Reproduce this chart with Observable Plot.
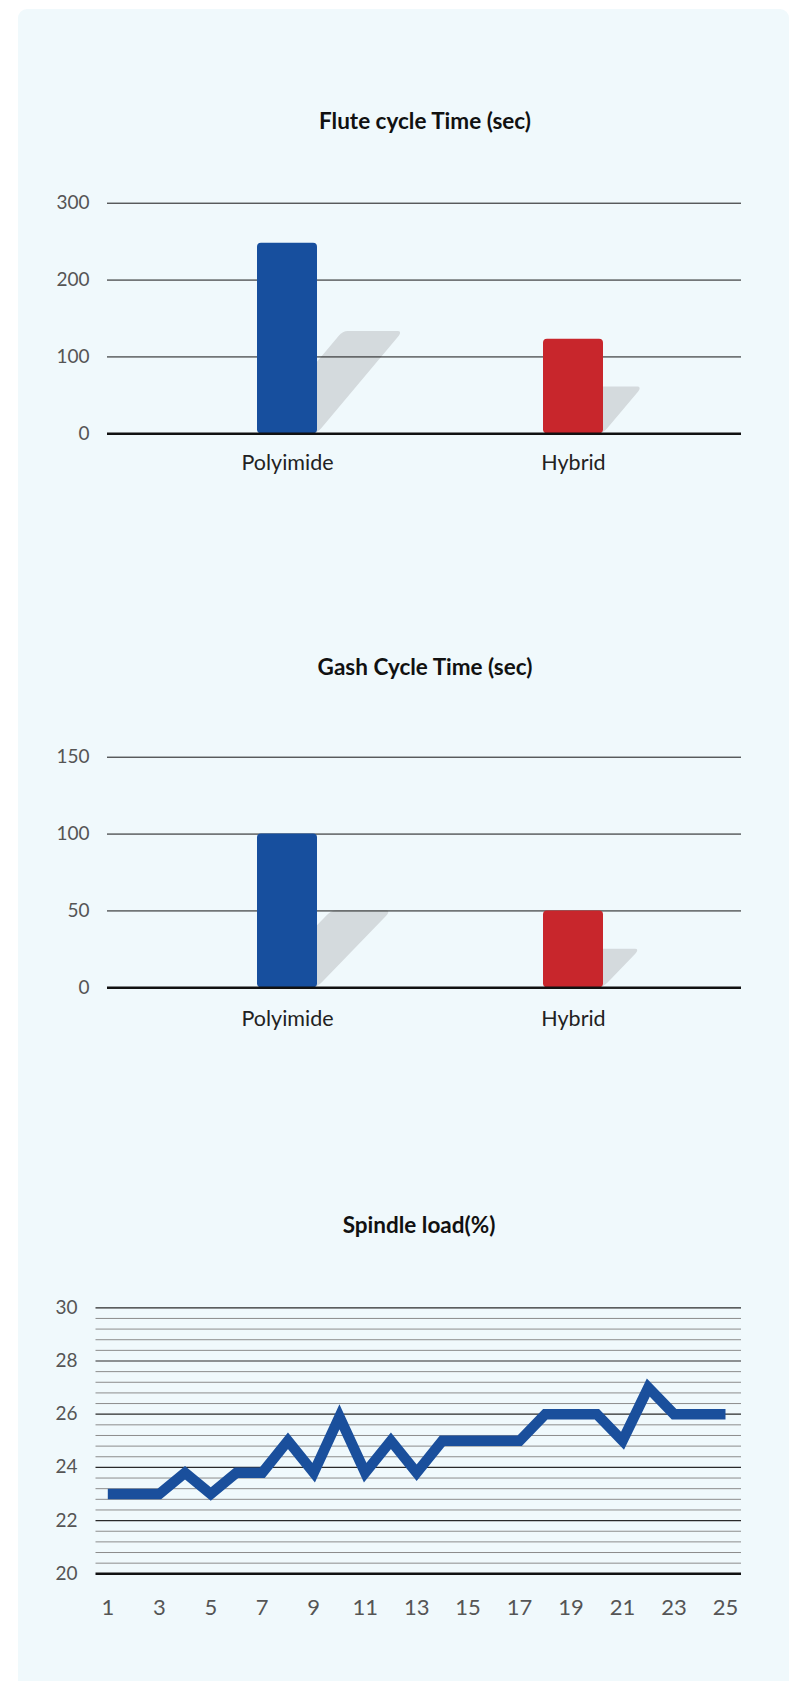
<!DOCTYPE html>
<html>
<head>
<meta charset="utf-8">
<script src="https://cdn.jsdelivr.net/npm/d3@7"></script>
<script src="https://cdn.jsdelivr.net/npm/@observablehq/plot@0.6"></script>
<style>
  html, body { margin: 0; padding: 0; background: #ffffff; }
  #root { position: relative; width: 798px; height: 1681px; overflow: hidden; font-family: Lato, "Open Sans", sans-serif; }
  #panel { position: absolute; left: 18px; top: 9px; width: 771px; height: 1690px; background: #f0f9fc; border-radius: 9px; }
  .title { position: absolute; width: 600px; text-align: center; font-weight: 700; font-size: 22.5px; color: #111; line-height: 26px; }
  .chart { position: absolute; left: 0; }
</style>
</head>
<body>
<div id="root">
  <div id="panel"></div>
</div>
<script>
// ---- Data ----
const fluteCategories = ["Polyimide", "Hybrid"];
const fluteValues = [248, 123];
const fluteShadow = [133, 61];
const fluteTicks = [0, 100, 200, 300];

const gashCategories = ["Polyimide", "Hybrid"];
const gashValues = [100, 50];
const gashShadow = [50, 25];
const gashTicks = [0, 50, 100, 150];

const spindleRuns = [1, 2, 3, 4, 5, 6, 7, 8, 9, 10, 11, 12, 13, 14, 15, 16, 17, 18, 19, 20, 21, 22, 23, 24, 25];
const spindleLoad = [23, 23, 23, 23.8, 23, 23.8, 23.8, 25, 23.8, 25.9, 23.8, 25, 23.8, 25, 25, 25, 25, 26, 26, 26, 25, 27, 26, 26, 26];
const spindleYTicks = [20, 22, 24, 26, 28, 30];
const spindleXTicks = [1, 3, 5, 7, 9, 11, 13, 15, 17, 19, 21, 23, 25];

const titles = ["Flute cycle Time (sec)", "Gash Cycle Time (sec)", "Spindle load(%)"];
const barColors = ["#174f9e", "#c8262c"];

const root = document.getElementById("root");
const FONT = "Lato, 'Open Sans', sans-serif";

function addTitle(text, cx, cy) {
  const d = document.createElement("div");
  d.className = "title";
  d.textContent = text;
  d.style.left = (cx - 300) + "px";
  d.style.top = (cy - 13) + "px";
  root.appendChild(d);
}

function shear(deg) {
  const k = Math.tan(deg * Math.PI / 180);
  return function (index, scales, values, dimensions, context, next) {
    const g = next(index, scales, values, dimensions, context);
    const y0 = scales.y(0);
    d3.select(g).selectAll("rect").attr("transform", `matrix(1,0,${-k},1,${k * y0},0)`);
    return g;
  };
}

function barChart(cats, vals, shadow, ticks, top, opts) {
  const data = cats.map((c, i) => ({cat: c, v: vals[i], s: shadow[i], color: barColors[i]}));
  const chart = Plot.plot({
    width: 798,
    height: 310,
    marginTop: opts.marginTop,
    marginBottom: 310 - opts.marginTop - opts.plotH,
    marginLeft: 107,
    marginRight: 57,
    style: {background: "transparent", fontFamily: FONT, overflow: "visible"},
    x: {domain: cats, paddingInner: 0.79, paddingOuter: 0.5, align: 0.52},
    y: {domain: [ticks[0], ticks[ticks.length - 1]]},
    marks: [
      Plot.rectY(data, {x: "cat", y: "s", fill: "#d4dadd", rx: 5, render: shear(opts.skew)}),
      Plot.ruleY(ticks.slice(1), {stroke: "#151515", strokeWidth: 1}),
      Plot.rectY(data, {x: "cat", y: "v", fill: "color", rx: 4}),
      Plot.ruleY([0], {stroke: "#111", strokeWidth: 2.5}),
      Plot.axisY(ticks, {tickSize: 0, tickPadding: 18, fontSize: 19, fill: "#555", label: null}),
      Plot.axisX({tickSize: 0, tickPadding: opts.labelPad, fontSize: 21.5, fill: "#222", label: null})
    ]
  });
  chart.classList.add("chart");
  chart.style.top = top + "px";
  chart.style.position = "absolute";
  root.appendChild(chart);
}

addTitle(titles[0], 425, 121);
barChart(fluteCategories, fluteValues, fluteShadow, fluteTicks, 180, {marginTop: 22.7, plotH: 230.6, skew: 40, labelPad: 21});

addTitle(titles[1], 425, 667);
barChart(gashCategories, gashValues, gashShadow, gashTicks, 735, {marginTop: 21.7, plotH: 230.6, skew: 44, labelPad: 23});

addTitle(titles[2], 419, 1225);
{
  const data = spindleRuns.map((r, i) => ({run: r, load: spindleLoad[i]}));
  const minor = d3.range(20.4, 30, 0.4).filter(v => Math.abs(v / 2 - Math.round(v / 2)) > 1e-6);
  const chart = Plot.plot({
    width: 798,
    height: 360,
    marginTop: 27.3,
    marginBottom: 66.7,
    marginLeft: 95.5,
    marginRight: 57,
    insetLeft: 11.8,
    insetRight: 16,
    style: {background: "transparent", fontFamily: FONT, overflow: "visible"},
    x: {domain: [1, 25]},
    y: {domain: [20, 30]},
    marks: [
      Plot.ruleY(minor, {stroke: "#8c8c8c", strokeWidth: 1}),
      Plot.ruleY(spindleYTicks.slice(1), {stroke: "#2a2a2a", strokeWidth: 1.2}),
      Plot.ruleY([20], {stroke: "#111", strokeWidth: 2.5}),
      Plot.line(data, {x: "run", y: "load", stroke: "#1a4f9c", strokeWidth: 10.5, strokeLinejoin: "miter", strokeMiterlimit: 3, strokeLinecap: "butt"}),
      Plot.axisY(spindleYTicks, {tickSize: 0, tickPadding: 18.5, fontSize: 19, fill: "#555", label: null}),
      Plot.axisX(spindleXTicks, {tickSize: 0, tickPadding: 26, fontSize: 22, fill: "#555", label: null})
    ]
  });
  chart.classList.add("chart");
  chart.style.top = "1280px";
  chart.style.position = "absolute";
  root.appendChild(chart);
}
</script>
</body>
</html>
